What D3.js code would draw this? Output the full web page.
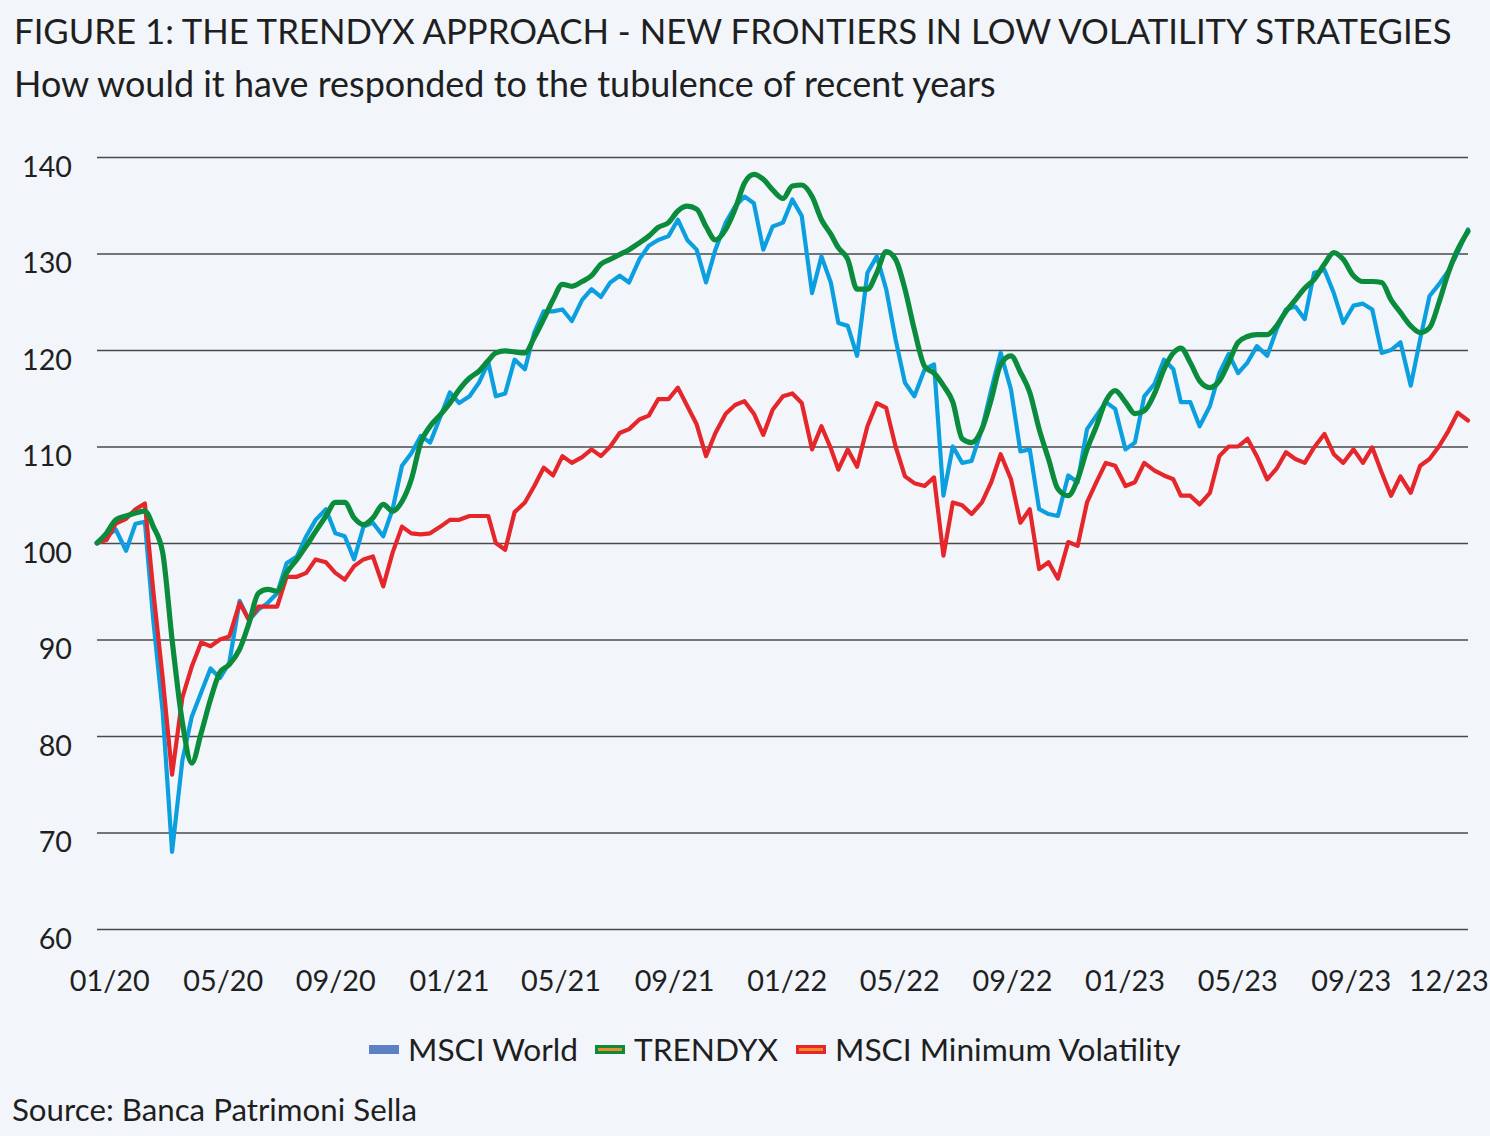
<!DOCTYPE html>
<html>
<head>
<meta charset="utf-8">
<script src="https://cdnjs.cloudflare.com/ajax/libs/d3/7.8.5/d3.min.js"></script>
<style>
  html, body { margin: 0; padding: 0; background: #f2f6fb; }
  svg { display: block; }
  text { font-family: Lato, "Open Sans", sans-serif; fill: #1f1f1f; }
</style>
</head>
<body>
<svg id="chart" width="1490" height="1136"></svg>
<script>
// ---------- DATA (values every ~10 days, 1st/11th/21st of each month, Jan 2020 -> Jan 2024) ----------
const seriesNames = ["MSCI World", "TRENDYX", "MSCI Minimum Volatility"];

const msciWorld = [
  100, 100.7, 101.4, 99.2, 102, 102.2, 92, 82.5, 68, 77.5,
  82, 84.5, 87, 86, 87.6, 94, 92, 93.1, 93.8, 94.8,
  97.9, 98.6, 100.7, 102.4, 103.5, 101, 100.7, 98.3, 101.7, 102.1,
  100.7, 103.5, 108, 109.3, 111.1, 110.4, 113.1, 115.6, 114.5, 115.2,
  116.6, 118.7, 115.2, 115.5, 119, 118, 121.8, 124, 124, 124.2,
  123, 125.2, 126.3, 125.5, 127, 127.7, 127, 129.4, 130.8, 131.4,
  131.8, 133.5, 131.4, 130.4, 127, 130.4, 133.2, 134.9, 135.9, 135.2,
  130.4, 132.8, 133.2, 135.6, 133.9, 125.9, 129.7, 127, 122.8, 122.5,
  119.4, 128, 129.7, 126.3, 121.1, 116.6, 115.2, 118, 118.5, 104.9,
  110, 108.3, 108.5, 111.8, 115.9, 119.7, 115.9, 109.5, 109.7, 103.5,
  103, 102.8, 107, 106.3, 111.8, 113.2, 114.6, 113.9, 109.7, 110.4,
  115.2, 116.5, 119, 118, 114.6, 114.6, 112.1, 114.2, 117.6, 119.6,
  117.6, 118.7, 120.4, 119.4, 122.1, 124.2, 124.5, 123.2, 128, 128.3,
  125.9, 122.8, 124.6, 124.8, 124.2, 119.7, 120, 120.8, 116.3, 121.1,
  125.6, 126.8, 128.2, 130.1, 132.5
];

const trendyx = [
  100, 101, 102.4, 102.8, 103.1, 103.3, 101.7, 99, 90, 81.4,
  77.2, 80.3, 83.8, 86.6, 87.4, 89, 91.7, 94.8, 95.2, 95,
  96.9, 98.3, 99.7, 101.2, 102.8, 104.2, 104.2, 102.6, 101.9, 102.6,
  104, 103.3, 104.3, 106.6, 110.4, 112.1, 113.3, 114.5, 115.9, 117.1,
  117.8, 118.9, 119.7, 119.9, 119.8, 119.7, 121.3, 123.2, 125.2, 126.8,
  126.6, 127.1, 127.7, 128.9, 129.4, 129.9, 130.4, 131.1, 131.8, 132.7,
  133.2, 134.4, 134.9, 134.6, 132.8, 131.4, 132.5, 134.6, 137.3, 138.2,
  137.7, 136.6, 135.7, 137, 137.1, 135.9, 133.5, 132, 130.6, 129.4,
  126.3, 126.3, 128, 130.2, 129.4, 126.3, 122.1, 118.3, 117.6, 116.3,
  114.6, 110.8, 110.4, 111.8, 114.9, 118.5, 119.4, 117.7, 115.6, 111.8,
  108.7, 105.6, 104.9, 106.6, 109.7, 112.1, 114.7, 115.8, 114.6, 113.4,
  113.7, 115.5, 118, 119.7, 120.2, 118.7, 116.8, 116.1, 116.8, 118.7,
  120.8, 121.4, 121.6, 121.6, 122.5, 124, 125.2, 126.4, 127.3, 128.9,
  130.1, 129.4, 127.7, 127.1, 127.1, 127, 125.2, 123.9, 122.5, 121.8,
  122.3, 124.9, 128, 130.4, 132.3
];

const msciMinVol = [
  100, 100.3, 102, 102.5, 103.5, 104.1, 95, 86, 76, 84,
  87.2, 89.7, 89.3, 90, 90.3, 93.8, 92, 93.4, 93.4, 93.4,
  96.5, 96.5, 96.9, 98.3, 98, 96.9, 96.2, 97.6, 98.3, 98.6,
  95.5, 99, 101.7, 101, 100.9, 101, 101.7, 102.4, 102.4, 102.8,
  102.8, 102.8, 100, 99.3, 103.2, 104.2, 105.9, 107.8, 107, 109,
  108.3, 108.9, 109.7, 109, 110, 111.4, 111.8, 112.8, 113.2, 114.9,
  114.9, 116.1, 114.2, 112.3, 109, 111.4, 113.4, 114.3, 114.7, 113.4,
  111.2, 113.8, 115.2, 115.5, 114.5, 109.7, 112.1, 109.8, 107.6, 109.7,
  107.9, 112.1, 114.5, 114, 110, 106.9, 106.2, 105.9, 106.8, 98.7,
  104.2, 103.9, 103, 104.2, 106.3, 109.2, 106.6, 102.1, 103.5, 97.3,
  98, 96.3, 100.1, 99.7, 104.2, 106.3, 108.3, 108, 105.9, 106.3,
  108.3, 107.5, 107, 106.6, 104.9, 104.9, 104, 105.2, 109, 110,
  110, 110.8, 109, 106.6, 107.7, 109.4, 108.7, 108.3, 109.9, 111.3,
  109.2, 108.3, 109.7, 108.3, 109.9, 107.3, 104.9, 106.9, 105.2, 108,
  108.7, 110, 111.6, 113.5, 112.7
];

const yTicks = [60, 70, 80, 90, 100, 110, 120, 130, 140];
const xTickLabels = ["01/20", "05/20", "09/20", "01/21", "05/21", "09/21", "01/22",
                     "05/22", "09/22", "01/23", "05/23", "09/23", "12/23"];
// dates at which the category labels sit on the axis
const xTickDates = ["2020-01-14", "2020-05-14", "2020-09-11", "2021-01-10", "2021-05-09",
                    "2021-09-07", "2022-01-05", "2022-05-05", "2022-09-02", "2022-12-31",
                    "2023-04-30", "2023-08-29", "2023-12-11"];

const titleText = "FIGURE 1: THE TRENDYX APPROACH - NEW FRONTIERS IN LOW VOLATILITY STRATEGIES";
const subtitleText = "How would it have responded to the tubulence of recent years";
const sourceText = "Source: Banca Patrimoni Sella";

(function draw() {
  const svg = d3.select("#chart");
  const W = 1490, H = 1136;
  const plotL = 97, plotR = 1468, plotT = 157, plotB = 929;

  svg.append("rect").attr("width", W).attr("height", H).attr("fill", "#f2f6fb");

  function fitText(sel, target) {
    const node = sel.node();
    const fs = parseFloat(sel.attr("font-size"));
    const w = node.getComputedTextLength();
    if (w > 0) sel.attr("font-size", fs * target / w);
    return sel;
  }

  const dateOf = k => new Date(2020, Math.floor(k / 3), 1 + (k % 3) * 10);
  const toPoints = arr => arr.map((v, k) => ({ date: dateOf(k), value: v }));

  const x = d3.scaleTime()
    .domain([new Date(2020, 0, 1), new Date(2024, 0, 1)])
    .range([plotL, plotR]);
  const y = d3.scaleLinear().domain([60, 140]).range([plotB, plotT]);

  // titles
  const title = svg.append("text").attr("x", 14).attr("y", 44)
    .attr("font-size", 32).text(titleText);
  fitText(title, 1438);
  const sub = svg.append("text").attr("x", 14).attr("y", 97)
    .attr("font-size", 32).text(subtitleText);
  fitText(sub, 982);

  // grid + y axis
  const yAxis = d3.axisLeft(y).tickValues(yTicks).tickSize(-(plotR - plotL)).tickPadding(25)
    .tickFormat(d3.format("d"));
  const gy = svg.append("g").attr("transform", `translate(${plotL},0)`).call(yAxis);
  gy.select(".domain").remove();
  gy.selectAll(".tick line").attr("stroke", "#4a4a4a").attr("stroke-width", 1.3);
  gy.selectAll(".tick text")
    .attr("font-size", 30).attr("fill", "#1f1f1f")
    .attr("dy", "0.32em").attr("transform", "translate(0,10)")
    .style("font-family", "Lato, 'Open Sans', sans-serif");
  const y140 = gy.selectAll(".tick text").filter(d => d === 140);
  fitText(y140, 50);
  gy.selectAll(".tick text").attr("font-size", y140.attr("font-size"));

  // x axis
  const parseDate = d3.timeParse("%Y-%m-%d");
  const tickDates = xTickDates.map(parseDate);
  const xAxis = d3.axisBottom(x).tickValues(tickDates).tickSize(0).tickPadding(0)
    .tickFormat((d, i) => xTickLabels[i]);
  const gx = svg.append("g").attr("transform", `translate(0,${plotB})`).call(xAxis);
  gx.select(".domain").remove();
  gx.selectAll(".tick text")
    .attr("font-size", 30).attr("fill", "#1f1f1f").attr("y", 62).attr("dy", 0)
    .style("font-family", "Lato, 'Open Sans', sans-serif");
  const x0 = gx.selectAll(".tick text").filter((d, i) => i === 0);
  fitText(x0, 80);
  gx.selectAll(".tick text").attr("font-size", x0.attr("font-size"));

  // lines
  const lineLinear = d3.line().x(d => x(d.date)).y(d => y(d.value)).curve(d3.curveLinear);
  const lineSmooth = d3.line().x(d => x(d.date)).y(d => y(d.value)).curve(d3.curveMonotoneX);

  svg.append("path").datum(toPoints(msciWorld))
    .attr("d", lineLinear).attr("fill", "none").attr("stroke", "#0b9fe0")
    .attr("stroke-width", 4.2).attr("stroke-linejoin", "round").attr("stroke-linecap", "round");
  svg.append("path").datum(toPoints(msciMinVol))
    .attr("d", lineLinear).attr("fill", "none").attr("stroke", "#e5262a")
    .attr("stroke-width", 4.2).attr("stroke-linejoin", "round").attr("stroke-linecap", "round");
  svg.append("path").datum(toPoints(trendyx))
    .attr("d", lineSmooth).attr("fill", "none").attr("stroke", "#0a8c3c")
    .attr("stroke-width", 5.2).attr("stroke-linejoin", "round").attr("stroke-linecap", "round");

  // legend
  const legendItems = [
    { name: seriesNames[0], fill: "#5b80c6", stroke: "#5b80c6", x: 369, tw: 170 },
    { name: seriesNames[1], fill: "#ef8a2c", stroke: "#0a8c3c", x: 595, tw: 145 },
    { name: seriesNames[2], fill: "#ef8a2c", stroke: "#e5262a", x: 796, tw: 349 }
  ];
  const lg = svg.append("g");
  let legendFs = null;
  legendItems.forEach((it, i) => {
    lg.append("rect").attr("x", it.x + 1.5).attr("y", 1046.5).attr("width", 27).attr("height", 6)
      .attr("fill", it.fill).attr("stroke", it.stroke).attr("stroke-width", 3);
    const t = lg.append("text").attr("x", it.x + 39).attr("y", 1061)
      .attr("font-size", 30).text(it.name);
    if (i === 0) { fitText(t, it.tw); legendFs = t.attr("font-size"); }
    else t.attr("font-size", legendFs);
  });

  // source
  const src = svg.append("text").attr("x", 12).attr("y", 1121).attr("font-size", 28).text(sourceText);
  fitText(src, 405);
})();
</script>
</body>
</html>
